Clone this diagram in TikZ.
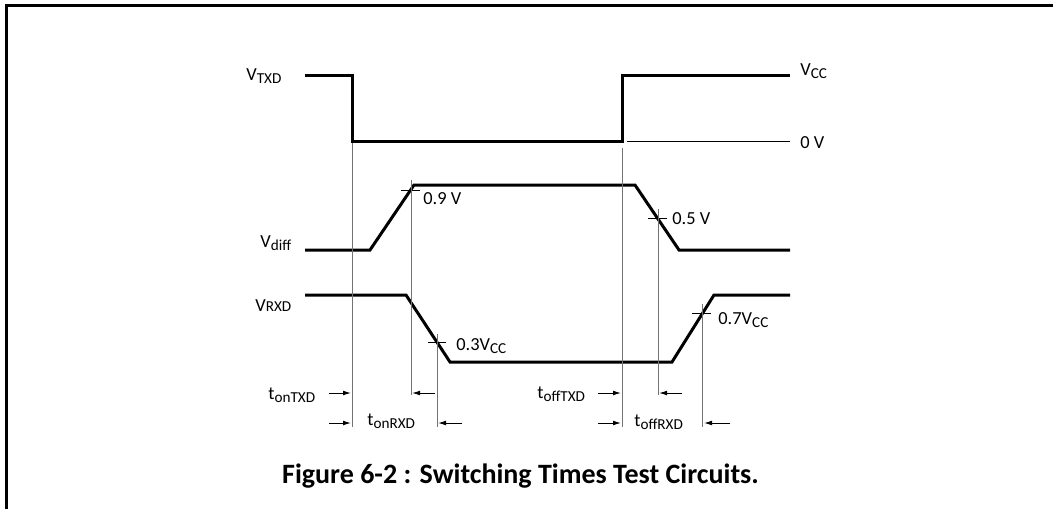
\documentclass[tikz,border=0pt]{standalone}
\usepackage{fontspec}
\setmainfont{Carlito}
\usetikzlibrary{arrows.meta}
\newcommand{\lowtxt}[1]{\raisebox{-0.35ex}{\fontsize{7.6}{8}\selectfont #1}}

\begin{document}
\begin{tikzpicture}[x=0.5pt, y=-0.5pt, font=\fontsize{9.2}{11}\selectfont]
    \tikzset{wave/.style={line width=1.5pt, line join=miter},
      markline/.style={black!55, line width=0.5pt},
      tick/.style={black, line width=0.5pt},
      tarrow/.style={-{Latex[length=4pt, width=2.4pt]}, line width=0.5pt},
      lbl/.style={inner sep=0pt, anchor=base west}}
    \useasboundingbox (0,0) rectangle (1053,509);
    % frame
    \draw[line width=1.5pt] (6.5,509) -- (6.5,5.5) -- (1053,5.5);
    % waveforms
    \draw[wave] (305,75) -- (352,75) -- (352,141) -- (622,141) -- (622,75) -- (790,75);
    \draw[tick] (627,141) -- (790,141);
    \draw[wave] (305,250) -- (370,250) -- (414,185) -- (635,185) -- (679,250) -- (790,250);
    \draw[wave] (305,295) -- (406,295) -- (450,362) -- (672,362) -- (714,295) -- (790,295);
    % crossing points
    \coordinate (txdfall) at (352,143);
    \coordinate (txdrise) at (622,148);
    \coordinate (diffup) at (411,190);
    \coordinate (diffdn) at (658,218);
    \coordinate (rxddn) at (437,342);
    \coordinate (rxdup) at (702,313);
    \draw[tick] (401,190) -- (420,190);
    \draw[tick] (648,218) -- (667,218);
    \draw[tick] (428,342) -- (446,342);
    \draw[tick] (692,313) -- (711,313);
    % marker lines
    \coordinate (onTXDm) at (352,427);
    \coordinate (onRXDa) at (411,395);
    \coordinate (onRXDb) at (437,427);
    \coordinate (offTXDm) at (622,427);
    \coordinate (offRXDa) at (658,395);
    \coordinate (offRXDb) at (702,427);
    \draw[markline] (txdfall) -- (onTXDm);
    \draw[markline] (411,180) -- (onRXDa);
    \draw[markline] (437,334) -- (onRXDb);
    \draw[markline] (txdrise) -- (offTXDm);
    \draw[markline] (658,209) -- (offRXDa);
    \draw[markline] (702,304) -- (offRXDb);
    % time arrows
    \coordinate (a1) at (329,393);
    \coordinate (b1) at (351,393);
    \coordinate (a2) at (329,423);
    \coordinate (b2) at (351,423);
    \coordinate (a3) at (435,393);
    \coordinate (b3) at (412,393);
    \coordinate (a4) at (462,423);
    \coordinate (b4) at (438,423);
    \coordinate (a5) at (598,393);
    \coordinate (b5) at (621,393);
    \coordinate (a6) at (598,423);
    \coordinate (b6) at (621,423);
    \coordinate (a7) at (682,393);
    \coordinate (b7) at (659,393);
    \coordinate (a8) at (730,423);
    \coordinate (b8) at (704,423);
    \draw[tarrow] (a1) -- (b1);
    \draw[tarrow] (a2) -- (b2);
    \draw[tarrow] (a3) -- (b3);
    \draw[tarrow] (a4) -- (b4);
    \draw[tarrow] (a5) -- (b5);
    \draw[tarrow] (a6) -- (b6);
    \draw[tarrow] (a7) -- (b7);
    \draw[tarrow] (a8) -- (b8);
    % labels
    \node[lbl] (vtxd) at (246,80) {V\lowtxt{TXD}};
    \node[lbl] (vdiff) at (260,247) {V\lowtxt{diff}};
    \node[lbl] (vrxd) at (255,311) {V{\fontsize{7.6}{8}\selectfont RXD}};
    \node[lbl] (vcc) at (800,75) {V\lowtxt{CC}};
    \node[lbl] (zero) at (800,148) {0 V};
    \node[lbl] (l09) at (423,204) {0.9 V};
    \node[lbl] (l05) at (672,224) {0.5 V};
    \node[lbl] (l03) at (456,350) {0.3V\lowtxt{CC}};
    \node[lbl] (l07) at (718,324) {0.7V\lowtxt{CC}};
    \node[lbl] (tontxd) at (268,399) {t\lowtxt{onTXD}};
    \node[lbl] (tonrxd) at (367,425) {t\lowtxt{onRXD}};
    \node[lbl] (tofftxd) at (537,398) {t\lowtxt{offTXD}};
    \node[lbl] (toffrxd) at (634,426) {t\lowtxt{offRXD}};
    \node[inner sep=0pt, anchor=base, font=\bfseries\fontsize{14}{16}\selectfont]
      (caption) at (520.5,483) {Figure 6-2 : Switching Times Test Circuits.};
\end{tikzpicture}
\end{document}
